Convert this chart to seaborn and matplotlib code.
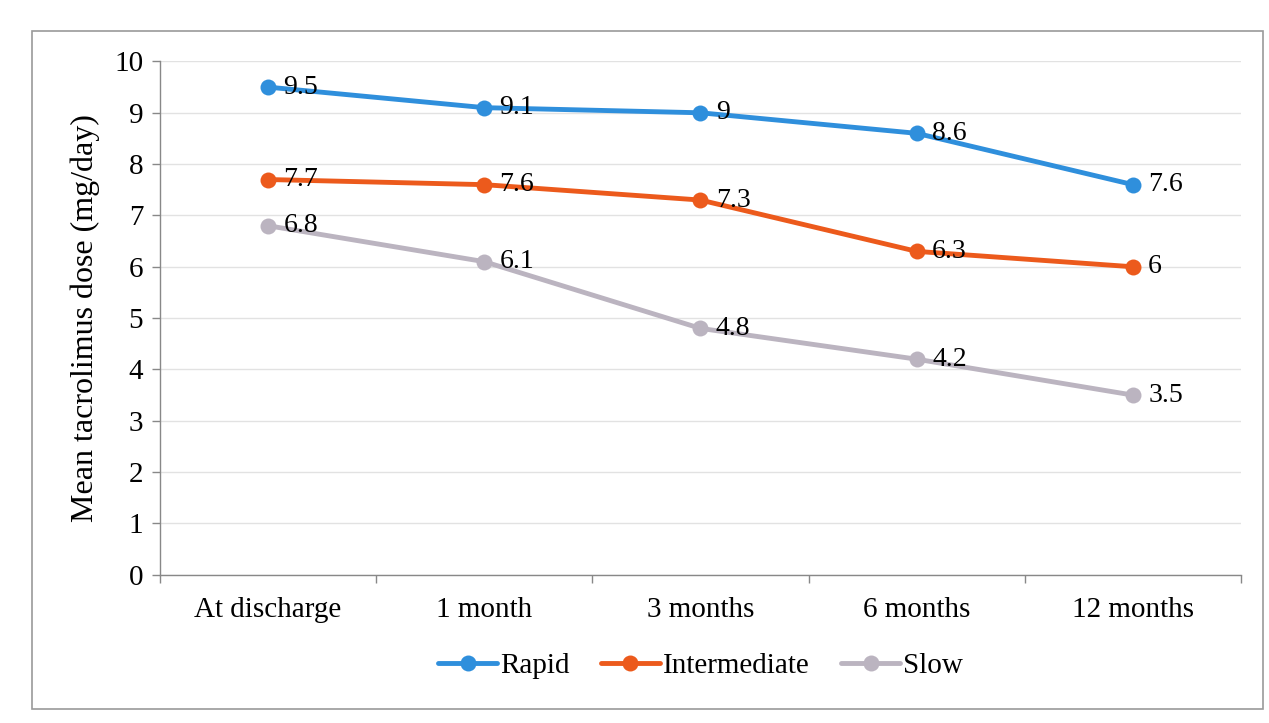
import matplotlib
matplotlib.use("Agg")
import matplotlib.pyplot as plt
from matplotlib.patches import Rectangle
from matplotlib.ticker import FixedLocator
import seaborn as sns
import pandas as pd

categories = ["At discharge", "1 month", "3 months", "6 months", "12 months"]
rapid = [9.5, 9.1, 9, 8.6, 7.6]
intermediate = [7.7, 7.6, 7.3, 6.3, 6]
slow = [6.8, 6.1, 4.8, 4.2, 3.5]
series_names = ["Rapid", "Intermediate", "Slow"]
colors = ["#2F8FDC", "#EC5A1C", "#BBB4C0"]

rows = []
for name, vals in zip(series_names, [rapid, intermediate, slow]):
    for c, v in zip(categories, vals):
        rows.append({"cat": c, "val": v, "series": name})
df = pd.DataFrame(rows)

sns.set_theme(style="white")
plt.rcParams["font.family"] = ["Liberation Serif", "DejaVu Serif"]
plt.rcParams["text.color"] = "black"

fig = plt.figure(figsize=(12.69, 7.23), dpi=100)
ax = fig.add_axes([0.126, 0.205, 0.852, 0.71])

sns.lineplot(data=df, x="cat", y="val", hue="series", hue_order=series_names,
             palette=colors, marker="o", markersize=11.5, markeredgewidth=0,
             linewidth=3.5, sort=False, ax=ax, legend=True)

for name, vals, col in zip(series_names, [rapid, intermediate, slow], colors):
    for i, v in enumerate(vals):
        lbl = f"{v:g}"
        ax.annotate(lbl, (i, v), xytext=(11, 0), textcoords="offset points",
                    ha="left", va="center", fontsize=20, color="black")

ax.set_ylim(0, 10)
ax.set_xlim(-0.5, 4.5)
ax.set_yticks(range(0, 11))
ax.tick_params(axis="y", labelsize=21, labelcolor="black", length=6, width=1,
               direction="out", left=True, color="#888888", pad=6)
ax.tick_params(axis="x", which="major", labelsize=21, labelcolor="black",
               length=0, pad=16)
ax.xaxis.set_minor_locator(FixedLocator([-0.5, 0.5, 1.5, 2.5, 3.5, 4.5]))
ax.tick_params(axis="x", which="minor", length=6, width=1, color="#888888",
               direction="out", bottom=True)
ax.grid(axis="y", color="#E2E2E2", linewidth=1)
ax.set_axisbelow(True)
for s in ["top", "right"]:
    ax.spines[s].set_visible(False)
for s in ["left", "bottom"]:
    ax.spines[s].set_color("#888888")
    ax.spines[s].set_linewidth(1)
ax.set_xlabel("")
ax.set_ylabel("Mean tacrolimus dose (mg/day)", fontsize=23, color="black", labelpad=10)

handles, labels = ax.get_legend_handles_labels()
leg = ax.legend(handles, labels, loc="upper center", bbox_to_anchor=(0.5, -0.1),
                ncol=3, frameon=False, fontsize=21, handlelength=2.0,
                handletextpad=0.1, columnspacing=1.1)
for t in leg.get_texts():
    t.set_color("black")

fig.patches.append(Rectangle((0.025, 0.02), 0.97, 0.937, transform=fig.transFigure,
                             fill=False, edgecolor="#9A9A9A", linewidth=1.2))

fig.savefig("out.png", dpi=100, facecolor="white")
